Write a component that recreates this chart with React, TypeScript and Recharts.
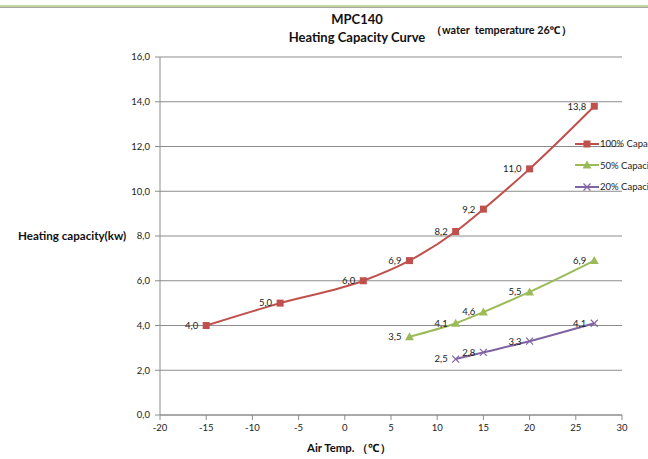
import React from 'react';
import { LineChart, Line, XAxis, YAxis, CartesianGrid, LabelList } from 'recharts';

const fullX = [-15, -7, 2, 7, 12, 15, 20, 27];
const fullY = [4.0, 5.0, 6.0, 6.9, 8.2, 9.2, 11.0, 13.8];
const halfX = [7, 12, 15, 20, 27];
const halfY = [3.5, 4.1, 4.6, 5.5, 6.9];
const lowX = [12, 15, 20, 27];
const lowY = [2.5, 2.8, 3.3, 4.1];
const xTicks = [-20, -15, -10, -5, 0, 5, 10, 15, 20, 25, 30];
const yTicks = [0, 2, 4, 6, 8, 10, 12, 14, 16];
const seriesNames = ['100% Capacity', '50% Capacity', '20% Capacity'];

const RED = '#c0504d';
const GREEN = '#9bbb59';
const PURPLE = '#8064a2';
const FONT = 'Lato, "Noto Sans", sans-serif';

const toRows = (xs: number[], ys: number[]) => xs.map((x, i) => ({ x, y: ys[i] }));
const fullData = toRows(fullX, fullY);
const halfData = toRows(halfX, halfY);
const lowData = toRows(lowX, lowY);

const fmt = (v: any) => Number(v).toFixed(1).replace('.', ',');

const Square = (props: any) => {
  const { cx, cy } = props;
  if (cx == null || cy == null) return null;
  return <rect x={cx - 3.5} y={cy - 3.5} width={7} height={7} fill={RED} />;
};
const Tri = (props: any) => {
  const { cx, cy } = props;
  if (cx == null || cy == null) return null;
  return <polygon points={`${cx},${cy - 4.5} ${cx + 4.5},${cy + 3.5} ${cx - 4.5},${cy + 3.5}`} fill={GREEN} />;
};
const Cross = (props: any) => {
  const { cx, cy } = props;
  if (cx == null || cy == null) return null;
  return (
    <g stroke={PURPLE} strokeWidth={1.2}>
      <line x1={cx - 3.5} y1={cy - 3.5} x2={cx + 3.5} y2={cy + 3.5} />
      <line x1={cx - 3.5} y1={cy + 3.5} x2={cx + 3.5} y2={cy - 3.5} />
    </g>
  );
};

const labelStyle = { fontSize: 9.5, fill: '#222', fontFamily: FONT };

const LegendIcon = ({ kind }: { kind: number }) => {
  const color = [RED, GREEN, PURPLE][kind];
  return (
    <svg width={24} height={10} style={{ display: 'block', flexShrink: 0 }}>
      <line x1={0} y1={5} x2={24} y2={5} stroke={color} strokeWidth={2} />
      {kind === 0 && <rect x={8.5} y={1.5} width={7} height={7} fill={color} />}
      {kind === 1 && <polygon points="12,0.5 16.5,8.5 7.5,8.5" fill={color} />}
      {kind === 2 && (
        <g stroke={color} strokeWidth={1.2}>
          <line x1={8.5} y1={1.5} x2={15.5} y2={8.5} />
          <line x1={8.5} y1={8.5} x2={15.5} y2={1.5} />
        </g>
      )}
    </svg>
  );
};

export default function App() {
  return (
    <div style={{ position: 'absolute', left: 0, top: 0, width: 648, height: 459, overflow: 'hidden', background: '#fff', fontFamily: FONT }}>
      <div style={{ position: 'absolute', left: 0, top: 5, width: 648, height: 2, background: '#c3d69b' }} />
      <div style={{ position: 'absolute', left: 0, top: 7, width: 648, height: 1, background: '#a6a6a6' }} />
      <LineChart
        width={648}
        height={459}
        margin={{ top: 57, right: 26, bottom: 0, left: 0 }}
        style={{ position: 'absolute', left: 0, top: 0 }}
      >
        <CartesianGrid vertical={false} stroke="#8c8c8c" strokeWidth={1} />
        <XAxis
          dataKey="x"
          type="number"
          domain={[-20, 30]}
          ticks={xTicks}
          height={44}
          tickSize={5}
          tickMargin={4}
          stroke="#8c8c8c"
          tick={{ fontSize: 9.5, fill: '#222', fontFamily: FONT }}
          allowDuplicatedCategory={false}
        />
        <YAxis
          type="number"
          domain={[0, 16]}
          ticks={yTicks}
          width={160}
          tickSize={5}
          tickMargin={5}
          stroke="#8c8c8c"
          tickFormatter={fmt}
          tick={{ fontSize: 9.5, fill: '#222', fontFamily: FONT }}
        />
        <Line data={fullData} dataKey="y" type="monotone" stroke={RED} strokeWidth={2} dot={<Square />} activeDot={false} isAnimationActive={false}>
          <LabelList dataKey="y" position="left" offset={8} formatter={fmt} style={labelStyle} />
        </Line>
        <Line data={halfData} dataKey="y" type="monotone" stroke={GREEN} strokeWidth={2} dot={<Tri />} activeDot={false} isAnimationActive={false}>
          <LabelList dataKey="y" position="left" offset={8} formatter={fmt} style={labelStyle} />
        </Line>
        <Line data={lowData} dataKey="y" type="monotone" stroke={PURPLE} strokeWidth={2} dot={<Cross />} activeDot={false} isAnimationActive={false}>
          <LabelList dataKey="y" position="left" offset={8} formatter={fmt} style={labelStyle} />
        </Line>
      </LineChart>

      <div style={{ position: 'absolute', left: 0, width: 714, top: 10, textAlign: 'center', fontWeight: 700, fontSize: 13, lineHeight: '18px', color: '#111' }}>
        MPC140<br />Heating Capacity Curve
      </div>
      <div style={{ position: 'absolute', left: 431, top: 22, fontWeight: 700, fontSize: 10.8, whiteSpace: 'nowrap', color: '#111' }}>
        （water&nbsp; temperature 26℃）
      </div>
      <div style={{ position: 'absolute', left: 18, top: 229, fontWeight: 700, fontSize: 11.6, whiteSpace: 'nowrap', color: '#111' }}>
        Heating capacity(kw)
      </div>
      <div style={{ position: 'absolute', left: 307, top: 440, fontWeight: 700, fontSize: 11.4, whiteSpace: 'nowrap', color: '#111' }}>
        Air Temp.&nbsp;（℃）
      </div>
      <div style={{ position: 'absolute', left: 575, top: 133, width: 73, overflow: 'hidden' }}>
        {seriesNames.map((n, i) => (
          <div key={n} style={{ display: 'flex', alignItems: 'center', height: 21.5, whiteSpace: 'nowrap', fontSize: 9.5, color: '#222' }}>
            <LegendIcon kind={i} />
            <span style={{ marginLeft: 1 }}>{n}</span>
          </div>
        ))}
      </div>
    </div>
  );
}
